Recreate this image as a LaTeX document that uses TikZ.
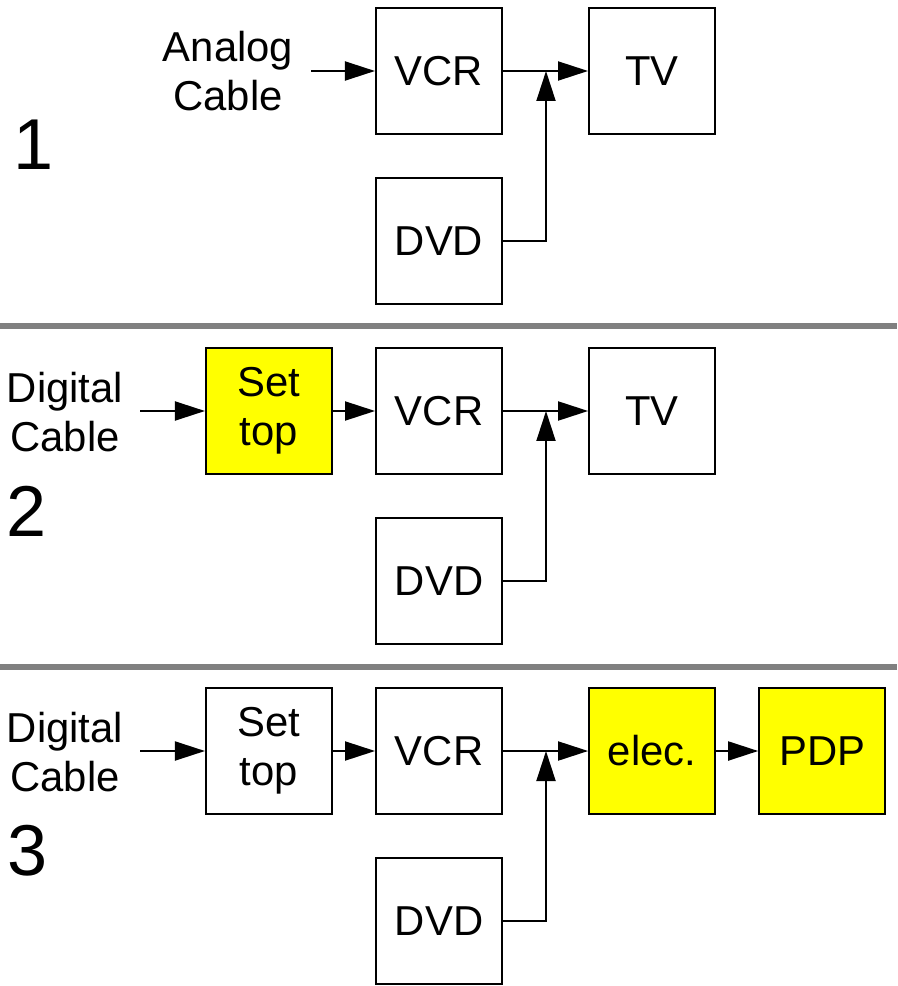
\documentclass[tikz,border=0pt]{standalone}
\usepackage{fontspec}
\setmainfont{Liberation Sans}
\usepackage{xcolor}
\usetikzlibrary{arrows.meta,positioning}
\definecolor{newyellow}{RGB}{255,255,0}
\definecolor{sepgray}{RGB}{128,128,128}

\begin{document}
\begin{tikzpicture}[x=0.02cm, y=-0.02cm,
  unit/.style={draw, line width=1.2pt, minimum width=2.52cm, minimum height=2.52cm,
    inner sep=0pt, font=\fontsize{23.8}{28}\selectfont, align=center},
  newunit/.style={unit, fill=newyellow},
  src/.style={font=\fontsize{23.8}{27.5}\selectfont, align=center, inner sep=0pt},
  num/.style={font=\fontsize{41}{41}\selectfont, inner sep=0pt},
  arr/.style={-{Triangle[length=0.6cm, width=0.38cm]}, line width=1.1pt},
  sep/.style={line width=0.12cm, sepgray},
]
\useasboundingbox (0,0) rectangle (897,986);

% --- Setup 1: analog cable ---
\node[unit] (vcrA) at (439,71) {VCR};
\node[unit, right=1.7cm of vcrA] (tvA)  {TV};
\node[unit, below=0.84cm of vcrA] (dvdA) {DVD};
\node[src] (srcA) at (228,71) {Analog\\Cable};
\node[num] (numA) at (34,145) {1};
\coordinate (inA) at (311,71);
\coordinate (jA)  at (546,71);

% --- Setup 2: digital cable, set top ---
\node[newunit] (setB) at (269,411) {Set\\top};
\node[unit, right=0.84cm of setB] (vcrB) {VCR};
\node[unit, right=1.7cm of vcrB]  (tvB)  {TV};
\node[unit, below=0.84cm of vcrB] (dvdB) {DVD};
\node[src] (srcB) at (65,412) {Digital\\Cable};
\node[num] (numB) at (27,511) {2};
\coordinate (inB) at (140,411);
\coordinate (jB)  at (546,411);

% --- Setup 3: digital cable, PDP ---
\node[unit] (setC) at (269,751) {Set\\top};
\node[unit, right=0.84cm of setC]    (vcrC)  {VCR};
\node[newunit, right=1.7cm of vcrC]  (elecC) {elec.};
\node[newunit, right=0.84cm of elecC](pdpC)  {PDP};
\node[unit, below=0.84cm of vcrC]    (dvdC)  {DVD};
\node[src] (srcC) at (65,752) {Digital\\Cable};
\node[num] (numC) at (28,851) {3};
\coordinate (inC) at (140,751);
\coordinate (jC)  at (546,751);

% --- Signal paths ---
\draw[arr] (inA) -- (vcrA);
\draw[arr] (vcrA) -- (tvA);
\draw[arr] (dvdA.east) -| (jA);

\draw[arr] (inB) -- (setB);
\draw[arr] (setB) -- (vcrB);
\draw[arr] (vcrB) -- (tvB);
\draw[arr] (dvdB.east) -| (jB);

\draw[arr] (inC) -- (setC);
\draw[arr] (setC) -- (vcrC);
\draw[arr] (vcrC) -- (elecC);
\draw[arr] (elecC) -- (pdpC);
\draw[arr] (dvdC.east) -| (jC);

% --- Separators ---
\coordinate (s1l) at (0,326);   \coordinate (s1r) at (897,326);
\coordinate (s2l) at (0,667);   \coordinate (s2r) at (897,667);
\draw[sep] (s1l) -- (s1r);
\draw[sep] (s2l) -- (s2r);
\end{tikzpicture}
\end{document}
